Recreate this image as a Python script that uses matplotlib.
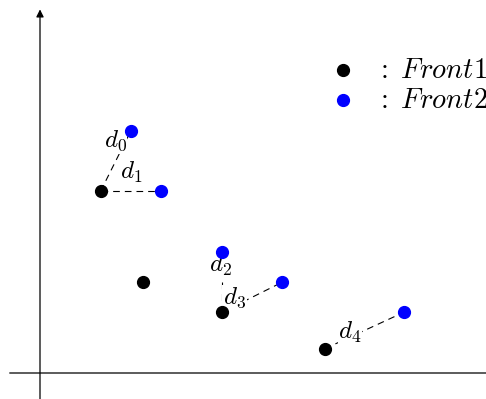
import matplotlib
matplotlib.use("Agg")
import matplotlib.pyplot as plt

plt.rcParams["mathtext.fontset"] = "cm"
plt.rcParams["font.family"] = "serif"
plt.rcParams["font.serif"] = ["DejaVu Serif"]

# two fronts
front1_x = [2.0, 3.4, 6.0, 9.4]
front1_y = [6.0, 3.0, 2.0, 0.8]
front2_x = [3.0, 4.0, 6.0, 8.0, 12.0]
front2_y = [8.0, 6.0, 4.0, 3.0, 2.0]

# distance segments: (front1 index, front2 index)
pairs = [(0, 0), (0, 1), (2, 2), (2, 3), (3, 4)]
dist_labels = [r"$d_0$", r"$d_1$", r"$d_2$", r"$d_3$", r"$d_4$"]
label_x = [2.48, 3.0, 5.97, 6.42, 10.23]
label_y = [7.65, 6.62, 3.56, 2.48, 1.34]

legend_names = [r"$:\;Front1$", r"$:\;Front2$"]
legend_colors = ["black", "blue"]
legend_y = [10.0, 9.0]

fig = plt.figure(figsize=(4.86, 3.99), dpi=100)
ax = fig.add_axes([0, 0, 1, 1])
ax.set_xlim(-40 / 30.3, 446 / 30.3)
ax.set_ylim(-26 / 30.3, 373 / 30.3)
ax.axis("off")

# axes with arrow heads
arrow = dict(arrowstyle="-|>", color="black", lw=0.9, mutation_scale=11, shrinkA=0, shrinkB=0)
ax.annotate("", xy=(0, 12.0), xytext=(0, -1.0), arrowprops=arrow, annotation_clip=False)
ax.annotate("", xy=(15.0, 0), xytext=(-1.0, 0), arrowprops=arrow, annotation_clip=False)

for (i, j) in pairs:
    ax.plot([front1_x[i], front2_x[j]], [front1_y[i], front2_y[j]],
            color="black", lw=0.8, linestyle=(0, (6, 4.5)), zorder=2)

for lbl, lx, ly in zip(dist_labels, label_x, label_y):
    ax.text(lx, ly, lbl, fontsize=18, ha="center", va="center", zorder=4,
            bbox=dict(facecolor="white", edgecolor="none", pad=0.5))

ax.plot(front1_x, front1_y, "o", color="black", markersize=8.5, zorder=5)
ax.plot(front2_x, front2_y, "o", color="blue", markersize=8.5, zorder=5)

# legend drawn by hand
for name, col, ly in zip(legend_names, legend_colors, legend_y):
    ax.plot([10.0], [ly], "o", color=col, markersize=8.5)
    ax.text(11.1, ly, name, fontsize=20.5, ha="left", va="center")

fig.savefig("out.png", dpi=100)
